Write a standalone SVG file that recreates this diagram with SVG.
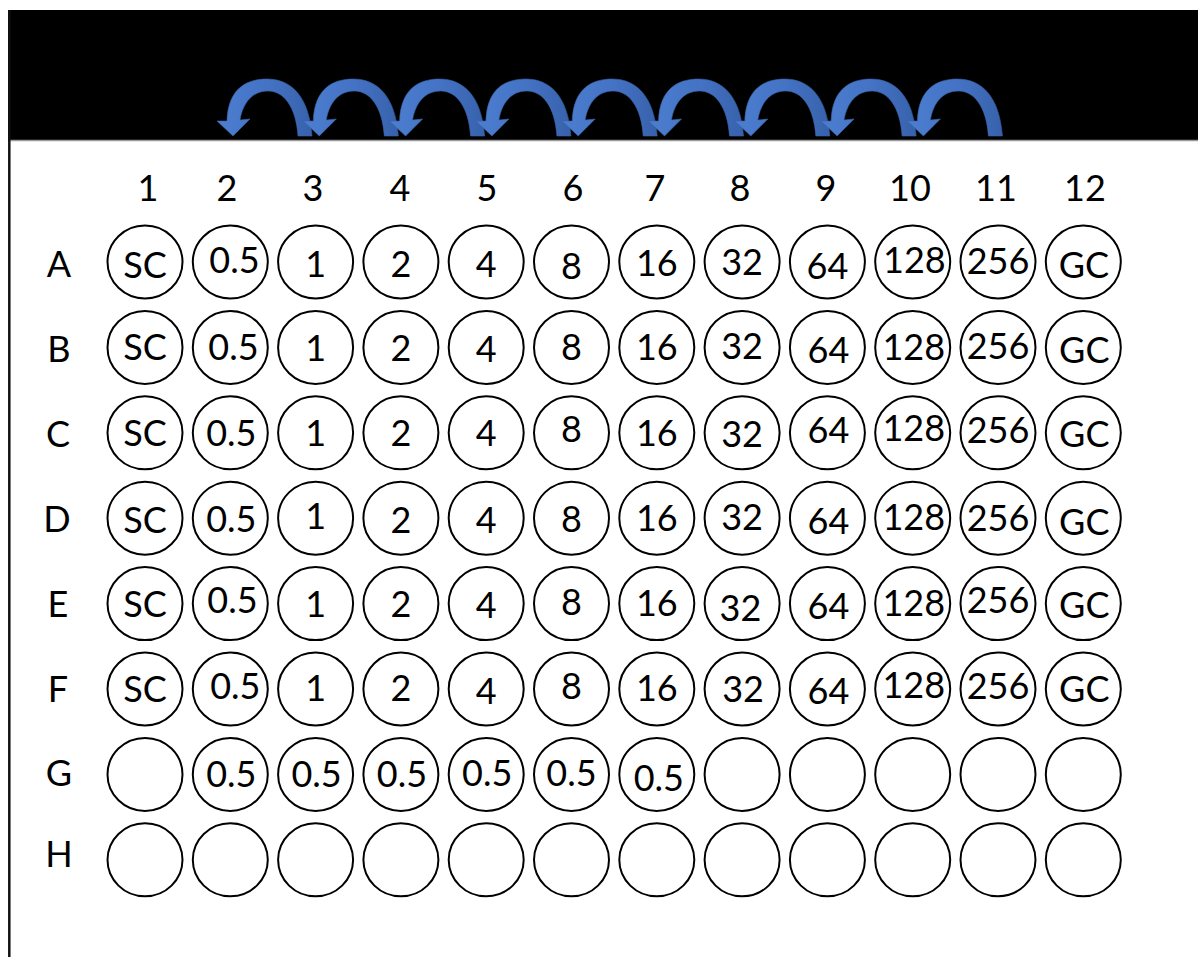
<svg xmlns="http://www.w3.org/2000/svg" width="1198" height="957" viewBox="0 0 1198 957">
<style>
.w{fill:#fff;stroke:#000;stroke-width:2}
.t{font-family:Lato,"Open Sans","Liberation Sans",sans-serif;font-size:36px;fill:#000;text-anchor:middle;transform:translateY(1.4px)}
.h{font-family:Lato,"Open Sans","Liberation Sans",sans-serif;font-size:36px;fill:#000;text-anchor:middle}
.arr{fill:url(#blue);stroke:#3A63A8;stroke-width:0.6}
</style>
<defs>
<linearGradient id="blue" x1="0" y1="0" x2="1" y2="0">
<stop offset="0" stop-color="#4C7ED0"/>
<stop offset="0.55" stop-color="#4472C4"/>
<stop offset="1" stop-color="#3761AB"/>
</linearGradient>
<path id="arc" d="M0,0 L-16,-15 L-6,-15 C-5,-47 13,-57 34,-57 C58,-57 76,-40 79,0 L65,0 C63,-29 51,-45 35,-45 C20,-45 10,-34 7,-16 L17,-17 Z"/>
</defs>
<rect x="0" y="0" width="1198" height="957" fill="#fff"/>
<rect x="8" y="10" width="1190" height="131" fill="#000"/>
<line x1="10" y1="140.5" x2="1198" y2="140.5" stroke="#9a9a9a" stroke-width="1.5"/>
<line x1="9.3" y1="10" x2="9.3" y2="957" stroke="#111" stroke-width="2.5"/>

<g id="connectors">
<use href="#arc" class="arr" transform="translate(233,136)"/>
<use href="#arc" class="arr" transform="translate(319.3,136)"/>
<use href="#arc" class="arr" transform="translate(405.6,136)"/>
<use href="#arc" class="arr" transform="translate(491.9,136)"/>
<use href="#arc" class="arr" transform="translate(578.2,136)"/>
<use href="#arc" class="arr" transform="translate(664.5,136)"/>
<use href="#arc" class="arr" transform="translate(750.8,136)"/>
<use href="#arc" class="arr" transform="translate(837.1,136)"/>
<use href="#arc" class="arr" transform="translate(923.4,136)"/>
</g>

<g id="col-labels">
<text class="h" x="148" y="201">1</text>
<text class="h" x="227" y="201">2</text>
<text class="h" x="313" y="201">3</text>
<text class="h" x="400" y="201">4</text>
<text class="h" x="487" y="201">5</text>
<text class="h" x="573" y="201">6</text>
<text class="h" x="655" y="201">7</text>
<text class="h" x="740" y="201">8</text>
<text class="h" x="826" y="201">9</text>
<text class="h" x="910" y="201">10</text>
<text class="h" x="996" y="201">11</text>
<text class="h" x="1085" y="201">12</text>
</g>
<g id="row-labels">
<text class="h" x="59" y="277">A</text>
<text class="h" x="59" y="362">B</text>
<text class="h" x="58" y="447">C</text>
<text class="h" x="57" y="532">D</text>
<text class="h" x="58" y="617">E</text>
<text class="h" x="58" y="702">F</text>
<text class="h" x="59" y="786">G</text>
<text class="h" x="59" y="867">H</text>
</g>

<g id="row-A">
<g id="A1"><ellipse class="w" cx="145" cy="262" rx="37.5" ry="36.5"/><text class="t" x="145" y="277">SC</text></g>
<g id="A2"><ellipse class="w" cx="230.3" cy="262" rx="37.5" ry="36.5"/><text class="t" x="234.5" y="272">0.5</text></g>
<g id="A3"><ellipse class="w" cx="315.6" cy="262" rx="37.5" ry="36.5"/><text class="t" x="315.6" y="276">1</text></g>
<g id="A4"><ellipse class="w" cx="400.9" cy="262" rx="37.5" ry="36.5"/><text class="t" x="400.9" y="276">2</text></g>
<g id="A5"><ellipse class="w" cx="486.2" cy="262" rx="37.5" ry="36.5"/><text class="t" x="486.2" y="276">4</text></g>
<g id="A6"><ellipse class="w" cx="571.5" cy="262" rx="37.5" ry="36.5"/><text class="t" x="571.5" y="277.5">8</text></g>
<g id="A7"><ellipse class="w" cx="656.8" cy="262" rx="37.5" ry="36.5"/><text class="t" x="656.8" y="274.5">16</text></g>
<g id="A8"><ellipse class="w" cx="742.1" cy="262" rx="37.5" ry="36.5"/><text class="t" x="742.1" y="273.5">32</text></g>
<g id="A9"><ellipse class="w" cx="827.4" cy="262" rx="37.5" ry="36.5"/><text class="t" x="827.4" y="277.8">64</text></g>
<g id="A10"><ellipse class="w" cx="912.7" cy="262" rx="37.5" ry="36.5"/><text class="t" x="914.4" y="271.2">128</text></g>
<g id="A11"><ellipse class="w" cx="998" cy="262" rx="37.5" ry="36.5"/><text class="t" x="998" y="272.8">256</text></g>
<g id="A12"><ellipse class="w" cx="1083.3" cy="262" rx="37.5" ry="36.5"/><text class="t" x="1084" y="276.2">GC</text></g>
</g>

<g id="row-B">
<g id="B1"><ellipse class="w" cx="145" cy="347.4" rx="37.5" ry="36.5"/><text class="t" x="145" y="358.9">SC</text></g>
<g id="B2"><ellipse class="w" cx="230.3" cy="347.4" rx="37.5" ry="36.5"/><text class="t" x="233.5" y="358.2">0.5</text></g>
<g id="B3"><ellipse class="w" cx="315.6" cy="347.4" rx="37.5" ry="36.5"/><text class="t" x="315.6" y="359.9">1</text></g>
<g id="B4"><ellipse class="w" cx="400.9" cy="347.4" rx="37.5" ry="36.5"/><text class="t" x="400.9" y="359.9">2</text></g>
<g id="B5"><ellipse class="w" cx="486.2" cy="347.4" rx="37.5" ry="36.5"/><text class="t" x="486.2" y="360.6">4</text></g>
<g id="B6"><ellipse class="w" cx="571.5" cy="347.4" rx="37.5" ry="36.5"/><text class="t" x="571.5" y="358.9">8</text></g>
<g id="B7"><ellipse class="w" cx="656.8" cy="347.4" rx="37.5" ry="36.5"/><text class="t" x="656.8" y="358.9">16</text></g>
<g id="B8"><ellipse class="w" cx="742.1" cy="347.4" rx="37.5" ry="36.5"/><text class="t" x="742.1" y="357.6">32</text></g>
<g id="B9"><ellipse class="w" cx="827.4" cy="347.4" rx="37.5" ry="36.5"/><text class="t" x="828.4" y="361.9">64</text></g>
<g id="B10"><ellipse class="w" cx="912.7" cy="347.4" rx="37.5" ry="36.5"/><text class="t" x="913.7" y="358.9">128</text></g>
<g id="B11"><ellipse class="w" cx="998" cy="347.4" rx="37.5" ry="36.5"/><text class="t" x="998" y="357.6">256</text></g>
<g id="B12"><ellipse class="w" cx="1083.3" cy="347.4" rx="37.5" ry="36.5"/><text class="t" x="1084.3" y="361.9">GC</text></g>
</g>

<g id="row-C">
<g id="C1"><ellipse class="w" cx="145" cy="432.8" rx="37.5" ry="36.5"/><text class="t" x="145" y="444.3">SC</text></g>
<g id="C2"><ellipse class="w" cx="230.3" cy="432.8" rx="37.5" ry="36.5"/><text class="t" x="231.3" y="444.3">0.5</text></g>
<g id="C3"><ellipse class="w" cx="315.6" cy="432.8" rx="37.5" ry="36.5"/><text class="t" x="315.6" y="444.3">1</text></g>
<g id="C4"><ellipse class="w" cx="400.9" cy="432.8" rx="37.5" ry="36.5"/><text class="t" x="400.9" y="444.3">2</text></g>
<g id="C5"><ellipse class="w" cx="486.2" cy="432.8" rx="37.5" ry="36.5"/><text class="t" x="486.2" y="445">4</text></g>
<g id="C6"><ellipse class="w" cx="571.5" cy="432.8" rx="37.5" ry="36.5"/><text class="t" x="571.5" y="441">8</text></g>
<g id="C7"><ellipse class="w" cx="656.8" cy="432.8" rx="37.5" ry="36.5"/><text class="t" x="656.8" y="444.3">16</text></g>
<g id="C8"><ellipse class="w" cx="742.1" cy="432.8" rx="37.5" ry="36.5"/><text class="t" x="742.1" y="446">32</text></g>
<g id="C9"><ellipse class="w" cx="827.4" cy="432.8" rx="37.5" ry="36.5"/><text class="t" x="828.4" y="441.7">64</text></g>
<g id="C10"><ellipse class="w" cx="912.7" cy="432.8" rx="37.5" ry="36.5"/><text class="t" x="913.7" y="439.3">128</text></g>
<g id="C11"><ellipse class="w" cx="998" cy="432.8" rx="37.5" ry="36.5"/><text class="t" x="998" y="441.7">256</text></g>
<g id="C12"><ellipse class="w" cx="1083.3" cy="432.8" rx="37.5" ry="36.5"/><text class="t" x="1084.3" y="446">GC</text></g>
</g>

<g id="row-D">
<g id="D1"><ellipse class="w" cx="145" cy="518.2" rx="37.5" ry="36.5"/><text class="t" x="145" y="531.4">SC</text></g>
<g id="D2"><ellipse class="w" cx="230.3" cy="518.2" rx="37.5" ry="36.5"/><text class="t" x="231.3" y="530.4">0.5</text></g>
<g id="D3"><ellipse class="w" cx="315.6" cy="518.2" rx="37.5" ry="36.5"/><text class="t" x="315.6" y="528">1</text></g>
<g id="D4"><ellipse class="w" cx="400.9" cy="518.2" rx="37.5" ry="36.5"/><text class="t" x="400.9" y="531.4">2</text></g>
<g id="D5"><ellipse class="w" cx="486.2" cy="518.2" rx="37.5" ry="36.5"/><text class="t" x="486.2" y="532">4</text></g>
<g id="D6"><ellipse class="w" cx="571.5" cy="518.2" rx="37.5" ry="36.5"/><text class="t" x="571.5" y="530.4">8</text></g>
<g id="D7"><ellipse class="w" cx="656.8" cy="518.2" rx="37.5" ry="36.5"/><text class="t" x="656.8" y="529.7">16</text></g>
<g id="D8"><ellipse class="w" cx="742.1" cy="518.2" rx="37.5" ry="36.5"/><text class="t" x="742.1" y="528.7">32</text></g>
<g id="D9"><ellipse class="w" cx="827.4" cy="518.2" rx="37.5" ry="36.5"/><text class="t" x="828.4" y="532.4">64</text></g>
<g id="D10"><ellipse class="w" cx="912.7" cy="518.2" rx="37.5" ry="36.5"/><text class="t" x="913.7" y="529">128</text></g>
<g id="D11"><ellipse class="w" cx="998" cy="518.2" rx="37.5" ry="36.5"/><text class="t" x="998" y="529.7">256</text></g>
<g id="D12"><ellipse class="w" cx="1083.3" cy="518.2" rx="37.5" ry="36.5"/><text class="t" x="1084.3" y="533.3">GC</text></g>
</g>

<g id="row-E">
<g id="E1"><ellipse class="w" cx="145" cy="603.6" rx="37.5" ry="36.5"/><text class="t" x="145" y="616.1">SC</text></g>
<g id="E2"><ellipse class="w" cx="230.3" cy="603.6" rx="37.5" ry="36.5"/><text class="t" x="232.5" y="611.8">0.5</text></g>
<g id="E3"><ellipse class="w" cx="315.6" cy="603.6" rx="37.5" ry="36.5"/><text class="t" x="315.6" y="616.1">1</text></g>
<g id="E4"><ellipse class="w" cx="400.9" cy="603.6" rx="37.5" ry="36.5"/><text class="t" x="400.9" y="616.1">2</text></g>
<g id="E5"><ellipse class="w" cx="486.2" cy="603.6" rx="37.5" ry="36.5"/><text class="t" x="486.2" y="616.8">4</text></g>
<g id="E6"><ellipse class="w" cx="571.5" cy="603.6" rx="37.5" ry="36.5"/><text class="t" x="571.5" y="613.4">8</text></g>
<g id="E7"><ellipse class="w" cx="656.8" cy="603.6" rx="37.5" ry="36.5"/><text class="t" x="656.8" y="615.1">16</text></g>
<g id="E8"><ellipse class="w" cx="742.1" cy="603.6" rx="37.5" ry="36.5"/><text class="t" x="740.5" y="619.7">32</text></g>
<g id="E9"><ellipse class="w" cx="827.4" cy="603.6" rx="37.5" ry="36.5"/><text class="t" x="828.4" y="618.1">64</text></g>
<g id="E10"><ellipse class="w" cx="912.7" cy="603.6" rx="37.5" ry="36.5"/><text class="t" x="913.7" y="615.1">128</text></g>
<g id="E11"><ellipse class="w" cx="998" cy="603.6" rx="37.5" ry="36.5"/><text class="t" x="998" y="612.1">256</text></g>
<g id="E12"><ellipse class="w" cx="1083.3" cy="603.6" rx="37.5" ry="36.5"/><text class="t" x="1084.3" y="617.1">GC</text></g>
</g>

<g id="row-F">
<g id="F1"><ellipse class="w" cx="145" cy="689" rx="37.5" ry="36.5"/><text class="t" x="145" y="700.5">SC</text></g>
<g id="F2"><ellipse class="w" cx="230.3" cy="689" rx="37.5" ry="36.5"/><text class="t" x="235.3" y="697.2">0.5</text></g>
<g id="F3"><ellipse class="w" cx="315.6" cy="689" rx="37.5" ry="36.5"/><text class="t" x="315.6" y="699.5">1</text></g>
<g id="F4"><ellipse class="w" cx="400.9" cy="689" rx="37.5" ry="36.5"/><text class="t" x="400.9" y="699.5">2</text></g>
<g id="F5"><ellipse class="w" cx="486.2" cy="689" rx="37.5" ry="36.5"/><text class="t" x="486.2" y="702.8">4</text></g>
<g id="F6"><ellipse class="w" cx="571.5" cy="689" rx="37.5" ry="36.5"/><text class="t" x="571.5" y="697.2">8</text></g>
<g id="F7"><ellipse class="w" cx="656.8" cy="689" rx="37.5" ry="36.5"/><text class="t" x="656.8" y="699.5">16</text></g>
<g id="F8"><ellipse class="w" cx="742.1" cy="689" rx="37.5" ry="36.5"/><text class="t" x="743.1" y="700.5">32</text></g>
<g id="F9"><ellipse class="w" cx="827.4" cy="689" rx="37.5" ry="36.5"/><text class="t" x="828.4" y="702.8">64</text></g>
<g id="F10"><ellipse class="w" cx="912.7" cy="689" rx="37.5" ry="36.5"/><text class="t" x="913.7" y="696.2">128</text></g>
<g id="F11"><ellipse class="w" cx="998" cy="689" rx="37.5" ry="36.5"/><text class="t" x="998" y="697.9">256</text></g>
<g id="F12"><ellipse class="w" cx="1083.3" cy="689" rx="37.5" ry="36.5"/><text class="t" x="1084.3" y="700.5">GC</text></g>
</g>

<g id="row-G">
<g id="G1"><ellipse class="w" cx="145" cy="774.4" rx="37.5" ry="36.5"/></g>
<g id="G2"><ellipse class="w" cx="230.3" cy="774.4" rx="37.5" ry="36.5"/><text class="t" x="231.3" y="785.9">0.5</text></g>
<g id="G3"><ellipse class="w" cx="315.6" cy="774.4" rx="37.5" ry="36.5"/><text class="t" x="316.6" y="785.9">0.5</text></g>
<g id="G4"><ellipse class="w" cx="400.9" cy="774.4" rx="37.5" ry="36.5"/><text class="t" x="401.9" y="785.9">0.5</text></g>
<g id="G5"><ellipse class="w" cx="486.2" cy="774.4" rx="37.5" ry="36.5"/><text class="t" x="487.2" y="784.9">0.5</text></g>
<g id="G6"><ellipse class="w" cx="571.5" cy="774.4" rx="37.5" ry="36.5"/><text class="t" x="571.5" y="784.9">0.5</text></g>
<g id="G7"><ellipse class="w" cx="656.8" cy="774.4" rx="37.5" ry="36.5"/><text class="t" x="658.8" y="789.2">0.5</text></g>
<g id="G8"><ellipse class="w" cx="742.1" cy="774.4" rx="37.5" ry="36.5"/></g>
<g id="G9"><ellipse class="w" cx="827.4" cy="774.4" rx="37.5" ry="36.5"/></g>
<g id="G10"><ellipse class="w" cx="912.7" cy="774.4" rx="37.5" ry="36.5"/></g>
<g id="G11"><ellipse class="w" cx="998" cy="774.4" rx="37.5" ry="36.5"/></g>
<g id="G12"><ellipse class="w" cx="1083.3" cy="774.4" rx="37.5" ry="36.5"/></g>
</g>

<g id="row-H">
<g id="H1"><ellipse class="w" cx="145" cy="859.8" rx="37.5" ry="36.5"/></g>
<g id="H2"><ellipse class="w" cx="230.3" cy="859.8" rx="37.5" ry="36.5"/></g>
<g id="H3"><ellipse class="w" cx="315.6" cy="859.8" rx="37.5" ry="36.5"/></g>
<g id="H4"><ellipse class="w" cx="400.9" cy="859.8" rx="37.5" ry="36.5"/></g>
<g id="H5"><ellipse class="w" cx="486.2" cy="859.8" rx="37.5" ry="36.5"/></g>
<g id="H6"><ellipse class="w" cx="571.5" cy="859.8" rx="37.5" ry="36.5"/></g>
<g id="H7"><ellipse class="w" cx="656.8" cy="859.8" rx="37.5" ry="36.5"/></g>
<g id="H8"><ellipse class="w" cx="742.1" cy="859.8" rx="37.5" ry="36.5"/></g>
<g id="H9"><ellipse class="w" cx="827.4" cy="859.8" rx="37.5" ry="36.5"/></g>
<g id="H10"><ellipse class="w" cx="912.7" cy="859.8" rx="37.5" ry="36.5"/></g>
<g id="H11"><ellipse class="w" cx="998" cy="859.8" rx="37.5" ry="36.5"/></g>
<g id="H12"><ellipse class="w" cx="1083.3" cy="859.8" rx="37.5" ry="36.5"/></g>
</g>
</svg>
